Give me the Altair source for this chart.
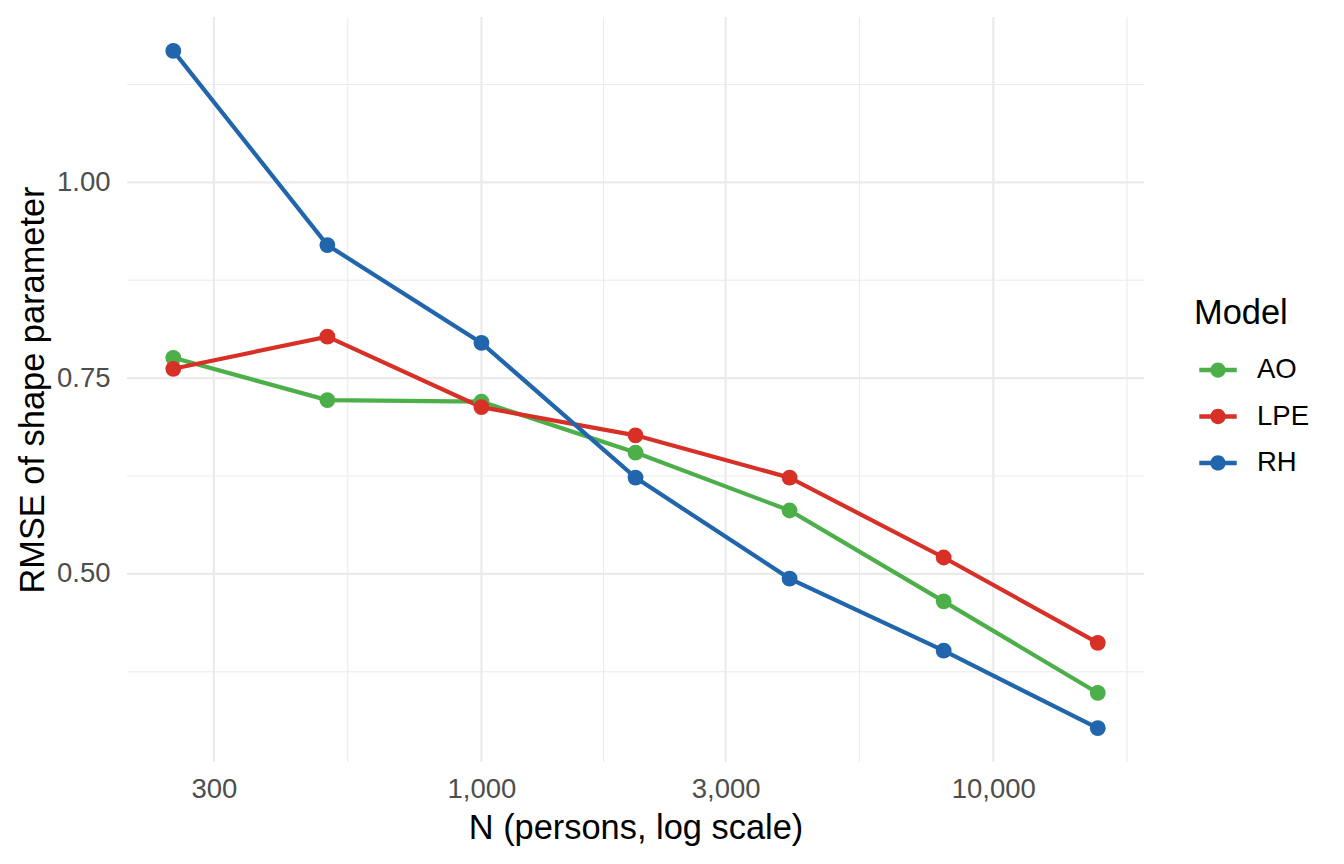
import altair as alt
import pandas as pd

# ---- data ----
n_persons = [250, 500, 1000, 2000, 4000, 8000, 16000]
models = ["AO", "LPE", "RH"]
rmse_ao = [0.776, 0.722, 0.720, 0.655, 0.581, 0.465, 0.348]
rmse_lpe = [0.762, 0.803, 0.713, 0.677, 0.623, 0.521, 0.412]
rmse_rh = [1.168, 0.920, 0.795, 0.623, 0.494, 0.402, 0.303]
colors = ["#4DAF4A", "#D73027", "#2166AC"]

x_major = [300, 1000, 3000, 10000]
x_minor = [548, 1732, 5477, 18257]
y_major = [0.50, 0.75, 1.00]
y_minor = [0.375, 0.625, 0.875, 1.125]

x_domain = [203.0, 19700.0]
y_domain = [0.2598, 1.2113]

rows = []
for m, vals in zip(models, [rmse_ao, rmse_lpe, rmse_rh]):
    for n, v in zip(n_persons, vals):
        rows.append({"N": n, "RMSE": v, "Model": m})
df = pd.DataFrame(rows)

FONT = "Liberation Sans"
GRID = "#EBEBEB"

xscale = alt.Scale(type="log", domain=x_domain, nice=False)
yscale = alt.Scale(domain=y_domain, nice=False, zero=False)

legend_path = ("M-1,-0.12L1,-0.12L1,0.12L-1,0.12Z "
               "M0.41,0A0.41,0.41,0,1,1,-0.41,0A0.41,0.41,0,1,1,0.41,0Z")

legend = alt.Legend(
    title="Model",
    orient="none",
    legendX=1067,
    legendY=280,
    padding=0,
    symbolType=legend_path,
    symbolSize=1400,
    symbolStrokeWidth=0,
    symbolOffset=5,
    labelOffset=20,
    rowPadding=13.4,
    titlePadding=19.7,
    labelFont=FONT,
    labelFontSize=27.5,
    labelColor="#000000",
    titleFont=FONT,
    titleFontSize=34.4,
    titleFontWeight="normal",
    titleColor="#000000",
)

color_enc = alt.Color(
    "Model:N",
    scale=alt.Scale(domain=models, range=colors),
    legend=legend,
)

x_axis = alt.Axis(
    values=x_major,
    format=",",
    grid=False,
    ticks=False,
    tickSize=0,
    domain=False,
    labelFont=FONT,
    labelFontSize=27.5,
    labelColor="#4D4D4D",
    labelBaseline="alphabetic",
    labelPadding=35,
    title="N (persons, log scale)",
    titleFont=FONT,
    titleFontSize=34.4,
    titleFontWeight="normal",
    titleColor="#000000",
    titleBaseline="alphabetic",
    titleX=508.5,
    titleY=76.3,
)
y_axis = alt.Axis(
    values=y_major,
    format=".2f",
    grid=False,
    ticks=False,
    tickSize=0,
    domain=False,
    labelFont=FONT,
    labelFontSize=27.5,
    labelColor="#4D4D4D",
    labelPadding=17,
    title="RMSE of shape parameter",
    titleFont=FONT,
    titleFontSize=34.4,
    titleFontWeight="normal",
    titleColor="#000000",
    titleBaseline="alphabetic",
    titleAngle=270,
    titleX=-84,
    titleY=372.5,
)

vx_minor = alt.Chart(pd.DataFrame({"N": x_minor})).mark_rule(
    color=GRID, strokeWidth=1.1).encode(x=alt.X("N:Q", scale=xscale, axis=x_axis))
vx_major = alt.Chart(pd.DataFrame({"N": x_major})).mark_rule(
    color=GRID, strokeWidth=2.2).encode(x=alt.X("N:Q", scale=xscale, axis=x_axis))
hy_minor = alt.Chart(pd.DataFrame({"RMSE": y_minor})).mark_rule(
    color=GRID, strokeWidth=1.1).encode(y=alt.Y("RMSE:Q", scale=yscale, axis=y_axis))
hy_major = alt.Chart(pd.DataFrame({"RMSE": y_major})).mark_rule(
    color=GRID, strokeWidth=2.2).encode(y=alt.Y("RMSE:Q", scale=yscale, axis=y_axis))

base = alt.Chart(df).encode(
    x=alt.X("N:Q", scale=xscale, axis=x_axis),
    y=alt.Y("RMSE:Q", scale=yscale, axis=y_axis),
    color=color_enc,
)
lines = base.mark_line(strokeWidth=4.2).encode(detail="Model:N")
points = base.mark_point(filled=True, size=250, opacity=1, strokeWidth=0)

chart = alt.layer(vx_minor, vx_major, hy_minor, hy_major, lines, points).properties(
    width=1017,
    height=745,
    background="white",
    autosize=alt.AutoSizeParams(type="none"),
    padding={"left": 119, "top": 9, "right": 192, "bottom": 94},
).configure_view(strokeWidth=0, stroke="transparent")

chart.save("out.html", embed_options={"renderer": "svg", "actions": False})
